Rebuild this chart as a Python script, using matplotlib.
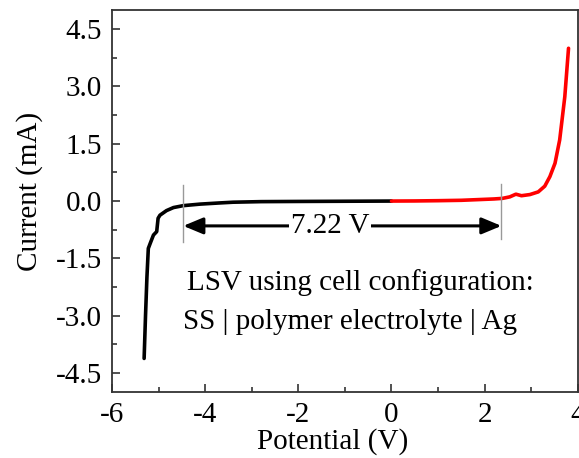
import numpy as np
import matplotlib
matplotlib.use("Agg")
import matplotlib.pyplot as plt
from matplotlib.ticker import MultipleLocator, FormatStrFormatter

# LSV sweep, cathodic branch (black) and anodic branch (red)
v_neg = [-5.31, -5.28, -5.25, -5.22, -5.18, -5.11, -5.04, -5.01, -4.97, -4.83,
         -4.68, -4.47, -4.11, -3.70, -3.40, -2.80, -2.00, -1.00, 0.00]
i_neg = [-4.12, -3.00, -2.00, -1.24, -1.11, -0.89, -0.80, -0.45, -0.37, -0.25,
         -0.17, -0.12, -0.08, -0.05, -0.03, -0.015, -0.01, -0.005, 0.00]

v_pos = [0.00, 0.50, 1.00, 1.50, 1.90, 2.20, 2.38, 2.54, 2.67, 2.79, 2.97,
         3.15, 3.29, 3.40, 3.51, 3.61, 3.72, 3.80]
i_pos = [0.00, 0.003, 0.01, 0.02, 0.04, 0.055, 0.07, 0.11, 0.18, 0.14, 0.17,
         0.24, 0.39, 0.64, 0.99, 1.60, 2.73, 4.00]

# stability window limits
win_lo = -4.47
win_hi = 2.36
win_label = "7.22 V"

plt.rcParams["font.family"] = "Liberation Serif"
plt.rcParams["font.size"] = 21
plt.rcParams["axes.unicode_minus"] = False

fig = plt.figure(figsize=(5.79, 4.58), dpi=100)
ax = fig.add_axes([0.1934, 0.144, 0.8046, 0.834])

ax.plot(v_neg, i_neg, color="black", lw=2.6, solid_capstyle="round",
        solid_joinstyle="round")
ax.plot(v_pos, i_pos, color="#ff0000", lw=2.6, solid_capstyle="round",
        solid_joinstyle="round")

for xv, (y0, y1) in zip([win_lo, win_hi], [(-1.07, 0.42), (-1.0, 0.45)]):
    ax.plot([xv, xv], [y0, y1], color="#999999", lw=1.0)

arrow_y = -0.65
ax.annotate("", xy=(win_lo, arrow_y), xytext=(win_hi, arrow_y),
            arrowprops=dict(arrowstyle="<|-|>,head_length=0.6,head_width=0.25",
                            color="black", lw=2.2,
                            mutation_scale=20, shrinkA=0, shrinkB=0))
ax.text(-1.32, arrow_y, win_label, ha="center", va="center",
        bbox=dict(facecolor="white", edgecolor="none", pad=1.5))

ax.text(-0.66, -2.12, "LSV using cell configuration:", ha="center", va="center")
ax.text(-0.89, -3.17, "SS | polymer electrolyte | Ag", ha="center", va="center")

ax.set_xlim(-6, 4)
ax.set_ylim(-5, 5)
ax.xaxis.set_major_locator(MultipleLocator(2))
ax.xaxis.set_minor_locator(MultipleLocator(1))
ax.yaxis.set_major_locator(MultipleLocator(1.5))
ax.yaxis.set_minor_locator(MultipleLocator(0.75))
ax.yaxis.set_major_formatter(FormatStrFormatter("%.1f"))

ax.tick_params(which="both", direction="in", color="#333333", width=1.2,
               top=False, right=False)
ax.tick_params(which="major", length=6, pad=7)
ax.tick_params(which="minor", length=3.5)
for s in ax.spines.values():
    s.set_color("#333333")
    s.set_linewidth(1.3)

ax.set_xlabel("Potential (V)")
ax.set_ylabel("Current (mA)")
ax.xaxis.set_label_coords(0.474, -0.093)
ax.yaxis.set_label_coords(-0.148, 0.525)

fig.savefig("out.png", dpi=100)
